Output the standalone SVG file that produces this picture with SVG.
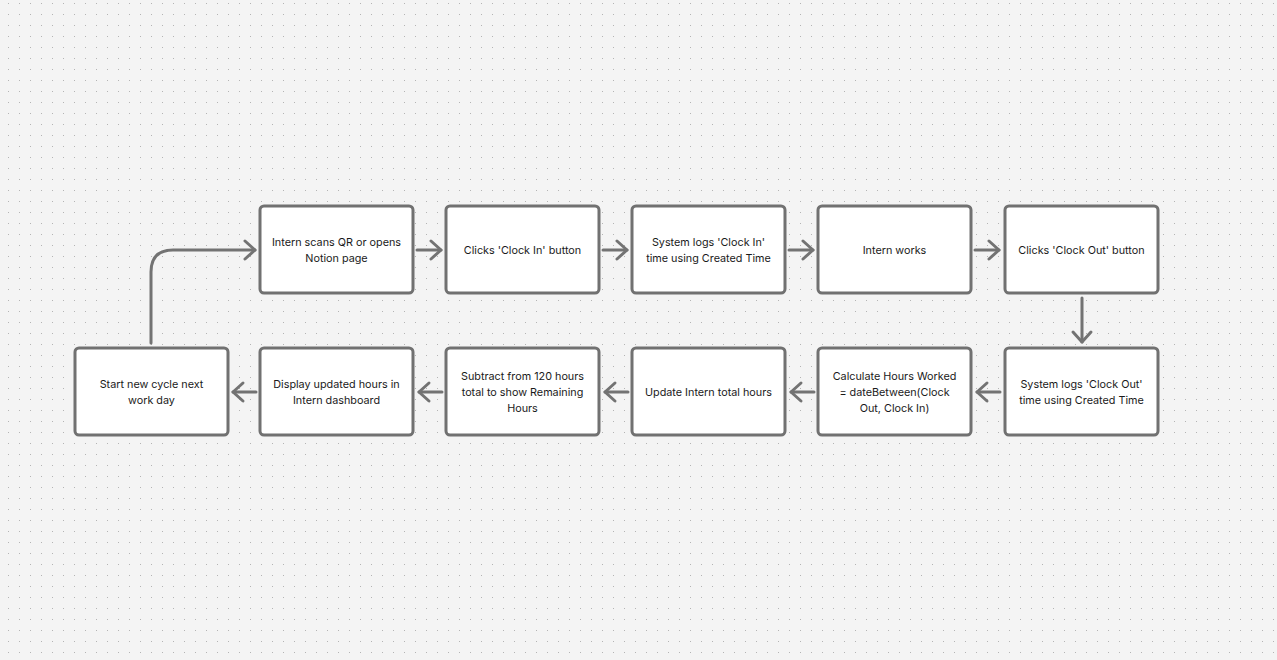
<svg xmlns="http://www.w3.org/2000/svg" width="1277" height="660" viewBox="0 0 1277 660">
<defs>
<pattern id="dots" x="0" y="0" width="11" height="11" patternUnits="userSpaceOnUse">
<rect x="8" y="3" width="1" height="1" fill="#b4b4b4"/>
</pattern>
<marker id="ah" viewBox="0 0 20 24" refX="17" refY="12" markerWidth="20" markerHeight="24" markerUnits="userSpaceOnUse" orient="auto">
<path d="M7 3 L17 12 L7 21" fill="none" stroke="#737373" stroke-width="3" stroke-linecap="round" stroke-linejoin="round"/>
</marker>
<style>
.box{fill:#ffffff;stroke:#717171;stroke-width:3}
.t{font-family:Inter,"Liberation Sans",sans-serif;font-size:10.8px;fill:#1a1a1a;text-anchor:middle}
.c{fill:none;stroke:#737373;stroke-width:3;stroke-linecap:round}
</style>
</defs>
<rect width="1277" height="660" fill="#f4f4f4"/>
<rect width="1277" height="660" fill="url(#dots)"/>
<g id="connectors">
<path class="c" d="M417 250 H441" marker-end="url(#ah)"/>
<path class="c" d="M603 250 H627" marker-end="url(#ah)"/>
<path class="c" d="M789 250 H813" marker-end="url(#ah)"/>
<path class="c" d="M975 250 H999" marker-end="url(#ah)"/>
<path class="c" d="M1082 298 V342" marker-end="url(#ah)"/>
<path class="c" d="M1000 392 H977" marker-end="url(#ah)"/>
<path class="c" d="M814 392 H791" marker-end="url(#ah)"/>
<path class="c" d="M628 392 H605" marker-end="url(#ah)"/>
<path class="c" d="M442 392 H419" marker-end="url(#ah)"/>
<path class="c" d="M256 392 H233" marker-end="url(#ah)"/>
<path class="c" d="M151 343 V272 Q151 250 173 250 H255" marker-end="url(#ah)"/>
</g>
<g id="n1"><rect class="box" x="260" y="206" width="153" height="87" rx="4"/><text class="t" x="336.5" y="246">Intern scans QR or opens</text><text class="t" x="336.5" y="262">Notion page</text></g>
<g id="n2"><rect class="box" x="446" y="206" width="153" height="87" rx="4"/><text class="t" x="522.5" y="254">Clicks 'Clock In' button</text></g>
<g id="n3"><rect class="box" x="632" y="206" width="153" height="87" rx="4"/><text class="t" x="708.5" y="246">System logs 'Clock In'</text><text class="t" x="708.5" y="262">time using Created Time</text></g>
<g id="n4"><rect class="box" x="818" y="206" width="153" height="87" rx="4"/><text class="t" x="894.5" y="254">Intern works</text></g>
<g id="n5"><rect class="box" x="1005" y="206" width="153" height="87" rx="4"/><text class="t" x="1081.5" y="254">Clicks 'Clock Out' button</text></g>
<g id="n6"><rect class="box" x="1005" y="348" width="153" height="87" rx="4"/><text class="t" x="1081.5" y="388">System logs 'Clock Out'</text><text class="t" x="1081.5" y="404">time using Created Time</text></g>
<g id="n7"><rect class="box" x="818" y="348" width="153" height="87" rx="4"/><text class="t" x="894.5" y="380">Calculate Hours Worked</text><text class="t" x="894.5" y="396">= dateBetween(Clock</text><text class="t" x="894.5" y="412">Out, Clock In)</text></g>
<g id="n8"><rect class="box" x="632" y="348" width="153" height="87" rx="4"/><text class="t" x="708.5" y="396">Update Intern total hours</text></g>
<g id="n9"><rect class="box" x="446" y="348" width="153" height="87" rx="4"/><text class="t" x="522.5" y="380">Subtract from 120 hours</text><text class="t" x="522.5" y="396">total to show Remaining</text><text class="t" x="522.5" y="412">Hours</text></g>
<g id="n10"><rect class="box" x="260" y="348" width="153" height="87" rx="4"/><text class="t" x="336.5" y="388">Display updated hours in</text><text class="t" x="336.5" y="404">Intern dashboard</text></g>
<g id="n11"><rect class="box" x="75" y="348" width="153" height="87" rx="4"/><text class="t" x="151.5" y="388">Start new cycle next</text><text class="t" x="151.5" y="404">work day</text></g>
</svg>
